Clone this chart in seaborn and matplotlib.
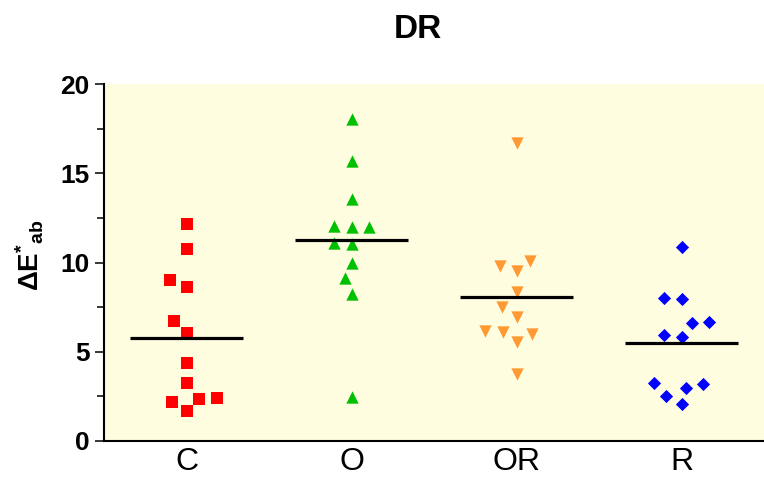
import numpy as np
import pandas as pd
import matplotlib
matplotlib.use('Agg')  # headless
import matplotlib.pyplot as plt
from matplotlib.markers import MarkerStyle
from matplotlib.transforms import Affine2D
import seaborn as sns

# data
groups = ['C', 'O', 'OR', 'R']
vals_c = [12.16, 10.76, 9.02, 8.65, 6.74, 6.07, 4.37, 3.23, 2.33, 2.17, 2.39, 1.68]
vals_o = [18.02, 15.69, 13.54, 12.04, 11.97, 12.00, 11.07, 11.02, 9.99, 9.11, 8.24, 2.45]
vals_or = [16.71, 10.10, 9.80, 9.52, 8.37, 7.49, 6.97, 6.18, 5.98, 6.13, 5.56, 3.75]
vals_r = [10.85, 8.03, 7.96, 6.59, 6.67, 5.83, 5.92, 3.19, 2.99, 3.23, 2.54, 2.09]
y_ticks = [0, 5, 10, 15, 20]

all_vals = [vals_c, vals_o, vals_or, vals_r]
df = pd.DataFrame({'group': np.repeat(groups, [len(v) for v in all_vals]),
                   'value': np.concatenate(all_vals)})

colors = {'C': '#FF0000', 'O': '#00C000', 'OR': '#FF9933', 'R': '#0000FF'}
markers = {'C': 's', 'O': '^', 'OR': 'v', 'R': 'D'}
scales = {'C': 0.72, 'O': 0.74, 'OR': 0.74, 'R': 0.56}  # shrink glyph, keep swarm spacing

sns.set_style('ticks', {'axes.edgecolor': 'black', 'text.color': 'black',
                        'xtick.color': 'black', 'ytick.color': 'black',
                        'axes.labelcolor': 'black'})
plt.rcParams['font.family'] = ['Liberation Sans', 'DejaVu Sans']
plt.rcParams['mathtext.fontset'] = 'custom'
plt.rcParams['mathtext.rm'] = 'Liberation Sans'
plt.rcParams['mathtext.bf'] = 'Liberation Sans:bold'

fig = plt.figure(figsize=(7.64, 4.78), dpi=100)
ax = fig.add_axes([104 / 764, 37 / 478, 660 / 764, 357 / 478])
ax.set_facecolor('#FFFDE0')

for g in groups:  # one swarm per group
    ms = MarkerStyle(markers[g], transform=Affine2D().scale(scales[g]))
    sns.swarmplot(data=df[df.group == g], x='group', y='value', order=groups,
                  color=colors[g], marker=ms, size=12, linewidth=0, ax=ax)

means = df.groupby('group')['value'].mean().reindex(groups)
for i, m in enumerate(means):  # mean bars
    ax.hlines(m, i - 0.34, i + 0.34, color='black', lw=2.3, zorder=4)

ax.set_xlim(-0.5, 3.5)
ax.set_ylim(0, 20)
ax.set_yticks(y_ticks)
ax.set_yticks(np.arange(2.5, 20, 5), minor=True)
ax.tick_params(axis='y', which='major', length=6.5, width=1.1, pad=4, labelsize=19)
ax.tick_params(axis='y', which='minor', length=5, width=1.1)
ax.tick_params(axis='x', length=0, pad=4, labelsize=23)
for t in ax.get_yticklabels():
    t.set_fontweight('bold')

ax.set_xlabel('')
ax.set_ylabel(r'$\mathbf{\Delta E^{*}{}_{ab}}$', fontsize=20, va='center')
ax.yaxis.set_label_coords(-74 / 660, 0.52)

sns.despine(ax=ax)
ax.spines['left'].set_linewidth(1.5)
ax.spines['bottom'].set_linewidth(1.5)

fig.text(418 / 764, 1 - 29 / 478, 'DR', ha='center', va='center', fontsize=24, fontweight='bold')

plt.savefig('out.png', dpi=100)
plt.close()
